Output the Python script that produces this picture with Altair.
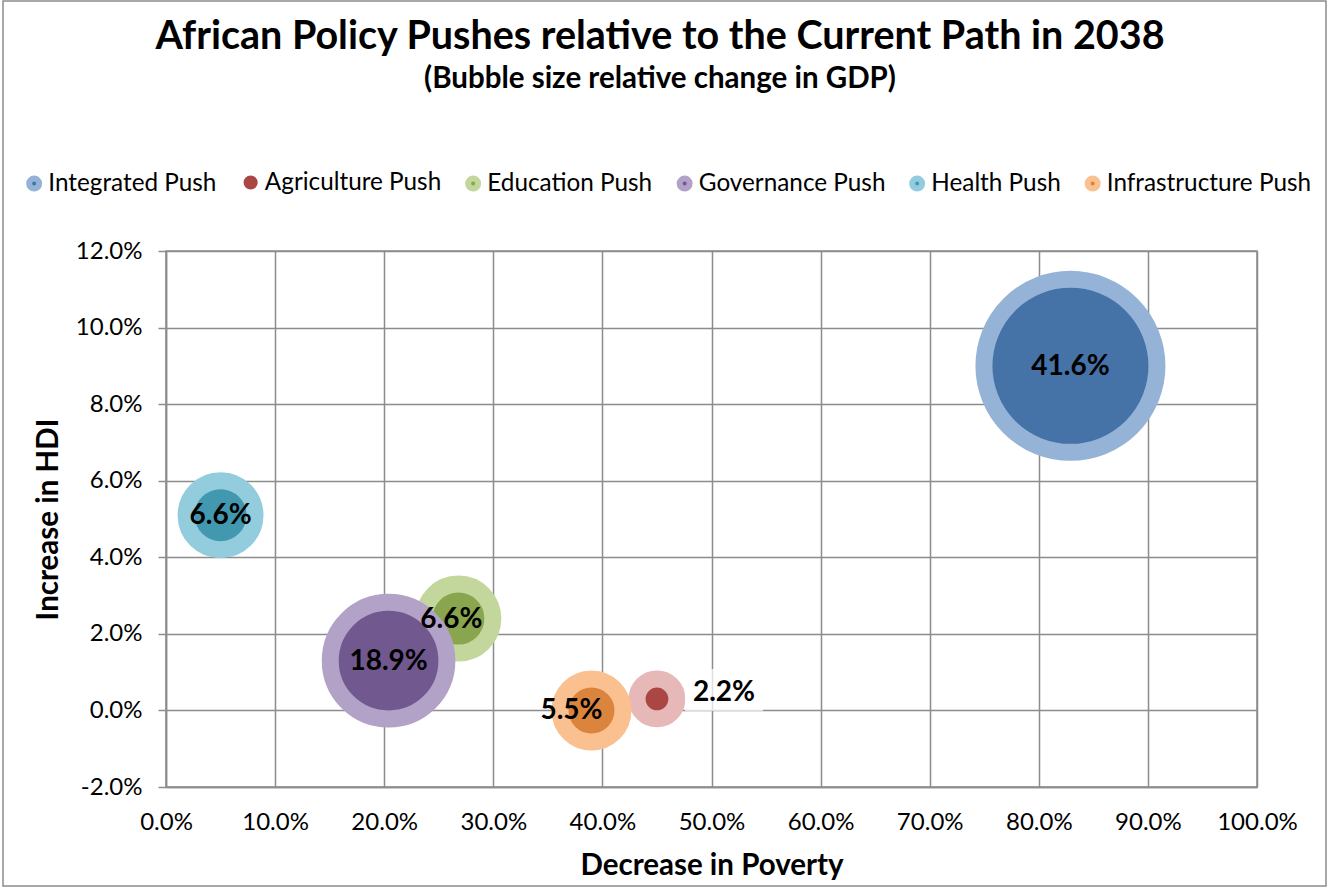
import altair as alt
import pandas as pd

series = ["Integrated Push", "Agriculture Push", "Education Push",
          "Governance Push", "Health Push", "Infrastructure Push"]
poverty = [0.829, 0.450, 0.268, 0.204, 0.050, 0.390]
hdi = [0.090, 0.003, 0.024, 0.013, 0.051, 0.000]
gdp = [41.6, 2.2, 6.6, 18.9, 6.6, 5.5]
labels = ["41.6%", "2.2%", "6.6%", "18.9%", "6.6%", "5.5%"]

inner_colors = ["#4572A7", "#AA4643", "#89A54E", "#71588F", "#4198AF", "#DB843D"]
outer_colors = ["#95B3D7", "#E6B9B8", "#C3D69B", "#B3A2C7", "#93CDDD", "#FAC090"]

x_ticks = [i / 10 for i in range(11)]
y_ticks = [-0.02, 0.0, 0.02, 0.04, 0.06, 0.08, 0.10, 0.12]

title_text = "African Policy Pushes relative to the Current Path in 2038"
subtitle_text = "(Bubble size relative change in GDP)"

df = pd.DataFrame({"series": series, "poverty": poverty, "hdi": hdi,
                   "gdp": gdp, "label": labels})

GRID = "#8C8C8C"
W, H = 1091, 536
PCT = "replace(format(datum.value, '.1%'), '\u2212', '-')"

x_enc = alt.X("poverty:Q",
              scale=alt.Scale(domain=[0, 1], nice=False, zero=False),
              axis=alt.Axis(title="Decrease in Poverty", labelExpr=PCT, values=x_ticks,
                            tickSize=0, labelPadding=23, titlePadding=17,
                            labelOverlap=False, labelFlush=False,
                            labelFontSize=24, titleFontSize=29.5))
y_enc = alt.Y("hdi:Q",
              scale=alt.Scale(domain=[-0.02, 0.12], nice=False, zero=False),
              axis=alt.Axis(title="Increase in HDI", labelExpr=PCT, values=y_ticks,
                            tickSize=8, labelPadding=16, titlePadding=12,
                            labelOverlap=False, labelFlush=False,
                            labelFontSize=24, titleFontSize=29.5))

legend = alt.Legend(orient="none", legendX=-144, legendY=-81, direction="horizontal",
                    columns=6, title=None, symbolType="circle",
                    symbolSize=alt.ExprRef("datum.value === 'Agriculture Push' ? 200 : 100"),
                    symbolStrokeWidth=6,
                    symbolDash=alt.ExprRef("datum.value === 'Agriculture Push' ? [0, 100] : []"),
                    labelFontSize=24.3, labelOffset=2,
                    columnPadding=14.5, padding=0, labelLimit=0)

bubbles = alt.Chart(df).mark_circle(opacity=1, strokeWidth=17, strokeOpacity=1).encode(
    x=x_enc, y=y_enc,
    size=alt.Size("gdp:Q", scale=alt.Scale(domain=[0, 41.6], range=[0, 29929], zero=True),
                  legend=None),
    fill=alt.Fill("series:N", scale=alt.Scale(domain=series, range=inner_colors),
                  legend=legend),
    stroke=alt.Stroke("series:N", scale=alt.Scale(domain=series, range=outer_colors),
                      legend=legend),
)

agri_only = alt.FieldOneOfPredicate(field="series", oneOf=["Agriculture Push"])
label_box = alt.Chart(df).mark_rect(
    width=78, height=42, fill="white", opacity=0.72, xOffset=67, yOffset=-9).encode(
    x="poverty:Q", y="hdi:Q").transform_filter(agri_only)


def label_layer(names, dx=0, dy=0):
    return alt.Chart(df).mark_text(fontSize=28, fontWeight="bold", color="black",
                                   dx=dx, dy=dy).encode(
        x="poverty:Q", y="hdi:Q", text="label:N"
    ).transform_filter(alt.FieldOneOfPredicate(field="series", oneOf=names))


labels_main = label_layer(["Integrated Push", "Governance Push", "Health Push"], 0, 1)
labels_edu = label_layer(["Education Push"], -7, 1)
labels_infra = label_layer(["Infrastructure Push"], -20, 1)
labels_agri = label_layer(["Agriculture Push"], 67, -6)

one = pd.DataFrame({"title": [title_text], "subtitle": [subtitle_text]})
title_mark = alt.Chart(one).mark_text(fontSize=39.5, fontWeight="bold", color="black",
                                      align="center", baseline="alphabetic").encode(
    x=alt.value(494), y=alt.value(-202), text="title:N")
subtitle_mark = alt.Chart(one).mark_text(fontSize=29.5, fontWeight="bold", color="black",
                                         align="center", baseline="alphabetic").encode(
    x=alt.value(494), y=alt.value(-163), text="subtitle:N")

frame = alt.Chart(one).mark_rect(
    fill=None, stroke=GRID, strokeWidth=1.5).encode(
    x=alt.value(-163), x2=alt.value(W + 69), y=alt.value(-250), y2=alt.value(H + 99))

chart = alt.layer(bubbles, label_box, labels_main, labels_edu, labels_infra, labels_agri,
                  title_mark, subtitle_mark, frame).properties(
    width=W, height=H,
    autosize=alt.AutoSizeParams(type="none"),
    padding={"left": 166, "top": 251, "right": 72, "bottom": 101},
).configure(font="Lato").configure_axis(
    gridColor=GRID, gridWidth=1.5, domainColor=GRID, domainWidth=1.5,
    tickColor=GRID, tickWidth=1.5, labelColor="black", titleColor="black",
    labelFont="Lato", titleFont="Lato", titleFontWeight="bold",
).configure_view(stroke=GRID, strokeWidth=1.5).configure_legend(
    labelFont="Lato", labelColor="black")

chart.save("out.html", embed_options={"renderer": "svg", "actions": False})
